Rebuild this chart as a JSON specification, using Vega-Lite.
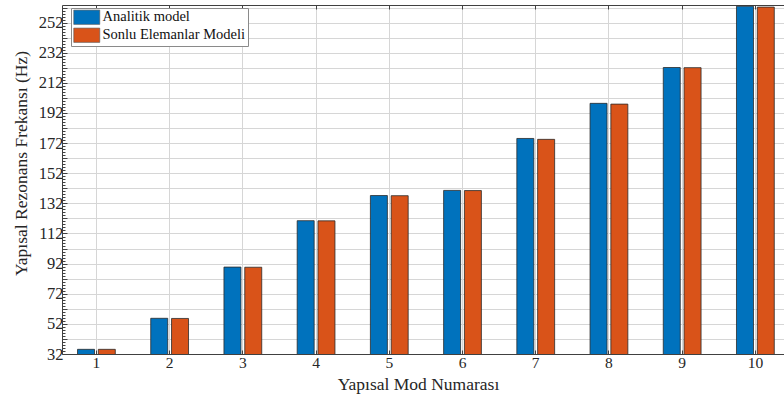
{
  "$schema": "https://vega.github.io/schema/vega-lite/v6.json",
  "autosize": "none",
  "width": 722,
  "height": 349,
  "padding": {"left": 62, "top": 5, "right": 0, "bottom": 51},
  "background": "white",
  "config": {
    "view": {"stroke": null}
  },
  "data": {
    "values": [
      {"mode": "1", "model": "Analitik model", "value": 35.1},
      {"mode": "1", "model": "Sonlu Elemanlar Modeli", "value": 35.1},
      {"mode": "2", "model": "Analitik model", "value": 55.7},
      {"mode": "2", "model": "Sonlu Elemanlar Modeli", "value": 55.6},
      {"mode": "3", "model": "Analitik model", "value": 89.7},
      {"mode": "3", "model": "Sonlu Elemanlar Modeli", "value": 89.6},
      {"mode": "4", "model": "Analitik model", "value": 120.5},
      {"mode": "4", "model": "Sonlu Elemanlar Modeli", "value": 120.4},
      {"mode": "5", "model": "Analitik model", "value": 137.2},
      {"mode": "5", "model": "Sonlu Elemanlar Modeli", "value": 137.1},
      {"mode": "6", "model": "Analitik model", "value": 140.6},
      {"mode": "6", "model": "Sonlu Elemanlar Modeli", "value": 140.5},
      {"mode": "7", "model": "Analitik model", "value": 175.1},
      {"mode": "7", "model": "Sonlu Elemanlar Modeli", "value": 174.5},
      {"mode": "8", "model": "Analitik model", "value": 198.4},
      {"mode": "8", "model": "Sonlu Elemanlar Modeli", "value": 197.9},
      {"mode": "9", "model": "Analitik model", "value": 222.2},
      {"mode": "9", "model": "Sonlu Elemanlar Modeli", "value": 222.1},
      {"mode": "10", "model": "Analitik model", "value": 262.9},
      {"mode": "10", "model": "Sonlu Elemanlar Modeli", "value": 262.3}
    ]
  },
  "layer": [
    {
      "mark": {"type": "bar", "clip": true, "stroke": "#2b2b2b", "strokeWidth": 0.8},
      "encoding": {
        "x": {
          "field": "mode", "type": "ordinal", "sort": null,
          "scale": {"range": [0, 727.8], "paddingInner": 0.06, "paddingOuter": 0},
          "axis": {
            "title": "Yapısal Mod Numarası", "titleFont": "Liberation Serif", "titleFontWeight": "normal", "titleColor": "#262626", "titleFontSize": 17.5, "titlePadding": 5,
            "titleX": 356, "titleAnchor": "middle", "titleAlign": "center",
            "labelFont": "Liberation Serif", "labelColor": "#262626",
            "labelAngle": 0, "labelFontSize": 15.5, "labelPadding": 5,
            "bandPosition": 0.5, "grid": true, "gridColor": "#d6d6d6", "gridWidth": 1,
            "domainColor": "#404040", "domainWidth": 1,
            "tickSize": -4, "tickColor": "#404040"
          }
        },
        "xOffset": {
          "field": "model", "type": "nominal",
          "scale": {"paddingInner": 0.183, "paddingOuter": 0.746}
        },
        "y": {
          "field": "value", "type": "quantitative",
          "scale": {"domain": [32, 263.7], "zero": false, "nice": false},
          "axis": {
            "title": "Yapısal Rezonans Frekansı (Hz)", "titleFont": "Liberation Serif", "titleFontWeight": "normal", "titleColor": "#262626", "titleFontSize": 17.5, "titlePadding": 8,
            "titleY": 158, "titleAlign": "center",
            "values": [32,34,36,38,40,42,44,46,48,50,52,54,56,58,60,62,64,66,68,70,72,74,76,78,80,82,84,86,88,90,92,94,96,98,100,102,104,106,108,110,112,114,116,118,120,122,124,126,128,130,132,134,136,138,140,142,144,146,148,150,152,154,156,158,160,162,164,166,168,170,172,174,176,178,180,182,184,186,188,190,192,194,196,198,200,202,204,206,208,210,212,214,216,218,220,222,224,226,228,230,232,234,236,238,240,242,244,246,248,250,252,254,256,258,260,262],
            "labelExpr": "(datum.value - 32) % 20 === 0 ? datum.label : ''",
            "labelFont": "Liberation Serif", "labelColor": "#262626",
            "labelOverlap": false, "labelFontSize": 16.5, "labelPadding": 4,
            "grid": true, "gridColor": "#d6d6d6", "gridWidth": 1,
            "gridOpacity": {"condition": {"test": "(datum.value - 32) % 10 === 0 && datum.value > 32", "value": 1}, "value": 0},
            "tickSize": {"condition": {"test": "(datum.value - 32) % 10 === 0", "value": -5}, "value": -3},
            "tickColor": "#404040",
            "domainColor": "#404040", "domainWidth": 1
          }
        },
        "color": {
          "field": "model", "type": "nominal",
          "scale": {"domain": ["Analitik model", "Sonlu Elemanlar Modeli"], "range": ["#0072BD", "#D95319"]},
          "legend": {
            "title": null, "orient": "none", "legendX": 9, "legendY": 3,
            "fillColor": "white", "strokeColor": "#8a8a8a", "padding": 2,
            "symbolType": "M-1,-1.1H3V1.1H-1Z", "symbolSize": 169,
            "symbolStrokeColor": "#555", "symbolStrokeWidth": 0.6, "symbolOpacity": 1,
            "labelFont": "Liberation Serif", "labelFontSize": 14.5, "labelColor": "#111",
            "labelOffset": 15, "rowPadding": 0, "symbolOffset": 0
          }
        }
      }
    },
    {
      "mark": {"type": "bar", "opacity": 0},
      "encoding": {
        "x": {
          "field": "mode", "type": "ordinal", "sort": null,
          "scale": {"range": [0, 727.8], "paddingInner": 0.06, "paddingOuter": 0},
          "axis": {
            "orient": "top", "title": null, "labels": false, "grid": false,
            "bandPosition": 0.5, "domainColor": "#404040", "domainWidth": 1,
            "tickSize": -4, "tickColor": "#404040"
          }
        },
        "y": {
          "field": "value", "type": "quantitative",
          "scale": {"domain": [32, 263.7], "zero": false, "nice": false},
          "axis": null
        }
      }
    }
  ],
  "resolve": {"axis": {"x": "independent", "y": "independent"}}
}
